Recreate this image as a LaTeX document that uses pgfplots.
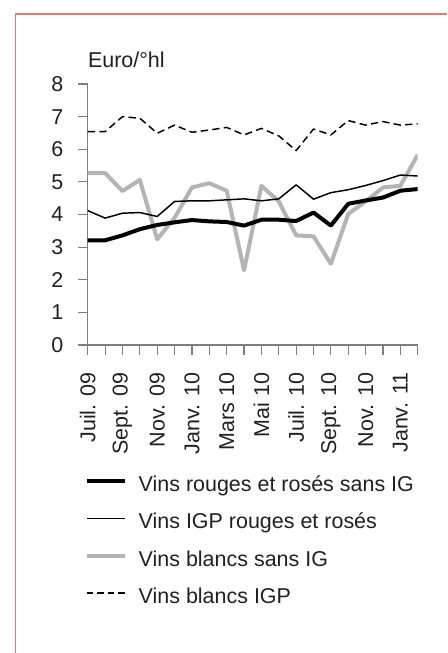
\documentclass[border=0pt]{standalone}
\usepackage{fontspec}
\setmainfont{Liberation Sans}
\usepackage{pgfplots}
\pgfplotsset{compat=1.18}
\usepackage{pgfplotstable}
\definecolor{txt}{RGB}{35,31,32}
\definecolor{framered}{RGB}{224,122,118}
\definecolor{lgray}{RGB}{178,180,183}
\definecolor{axgray}{RGB}{125,125,125}

\pgfplotstableread{
x thick thin gray dash
0  3.21 4.12 5.27 6.54
1  3.21 3.89 5.27 6.54
2  3.36 4.04 4.72 7.00
3  3.55 4.06 5.06 6.95
4  3.68 3.94 3.24 6.49
5  3.76 4.40 3.90 6.74
6  3.83 4.42 4.83 6.52
7  3.79 4.42 4.96 6.59
8  3.77 4.45 4.73 6.67
9  3.66 4.48 2.29 6.44
10 3.84 4.42 4.88 6.64
11 3.84 4.48 4.40 6.41
12 3.80 4.91 3.36 5.96
13 4.06 4.47 3.33 6.62
14 3.66 4.67 2.49 6.44
15 4.33 4.76 4.02 6.88
16 4.43 4.89 4.40 6.74
17 4.52 5.04 4.83 6.85
18 4.73 5.21 4.88 6.74
19 4.78 5.18 5.83 6.78
}\data

\newcommand{\chfont}{\fontsize{16.1pt}{18.5pt}\selectfont}

\begin{document}
\begin{tikzpicture}
\path[use as bounding box] (0,0) rectangle (335.25pt,-489.75pt);
\draw[framered, line width=1.1pt] (11.8pt,-489.75pt) -- (11.8pt,-10.5pt) -- (335.25pt,-10.5pt);
\begin{axis}[
  at={(65.8pt,-258.75pt)}, anchor=south west,
  scale only axis, width=247.5pt, height=195.75pt,
  xmin=0, xmax=19, ymin=0, ymax=8,
  axis lines=left,
  axis line style={-, draw=axgray, line width=0.9pt},
  tick align=outside, major tick length=7.2pt,
  tick style={draw=axgray, line width=0.9pt},
  xtick={0,...,19},
  xticklabels={Juil. 09,,Sept. 09,,Nov. 09,,Janv. 10,,Mars 10,,Mai 10,,Juil. 10,,Sept. 10,,Nov. 10,,Janv. 11,},
  ytick={0,...,8},
  /pgf/number format/assume math mode=true,
  tick label style={font=\chfont, text=txt},
  xticklabel style={rotate=90, anchor=east},
  xticklabel shift=10pt,
  yticklabel style={xshift=-7.5pt},
  ylabel={Euro/°hl},
  every axis y label/.style={at={(axis description cs:0,1)}, anchor=base west, inner sep=0pt, yshift=12.75pt, font=\chfont, text=txt},
  legend style={at={(axis description cs:-0.01,-0.502)}, anchor=north west, draw=none, fill=none,
    inner sep=0pt, row sep=13pt, column sep=9pt, font=\chfont,
    nodes={inner sep=0pt, anchor=west, text height=11.5pt, text depth=3.5pt, text=txt}},
  legend cell align=left,
  legend image code/.code={\draw[#1] (0pt,4pt) -- (28.5pt,4pt);},
  line join=round,
]
\addlegendimage{black, line width=3pt}
\addlegendentry{Vins rouges et rosés sans IG}
\addlegendimage{black, line width=1.1pt}
\addlegendentry{Vins IGP rouges et rosés}
\addlegendimage{lgray, line width=3pt}
\addlegendentry{Vins blancs sans IG}
\addlegendimage{black, line width=1.1pt, dash pattern=on 4.9pt off 3pt}
\addlegendentry{Vins blancs IGP}

\addplot[lgray, line width=3pt, forget plot] table[x=x, y=gray] {\data};
\addplot[black, line width=1.1pt, dash pattern=on 5.5pt off 3.2pt, forget plot] table[x=x, y=dash] {\data};
\addplot[black, line width=1.1pt, forget plot] table[x=x, y=thin] {\data};
\addplot[black, line width=3pt, forget plot] table[x=x, y=thick] {\data};
\end{axis}
\end{tikzpicture}
\end{document}
